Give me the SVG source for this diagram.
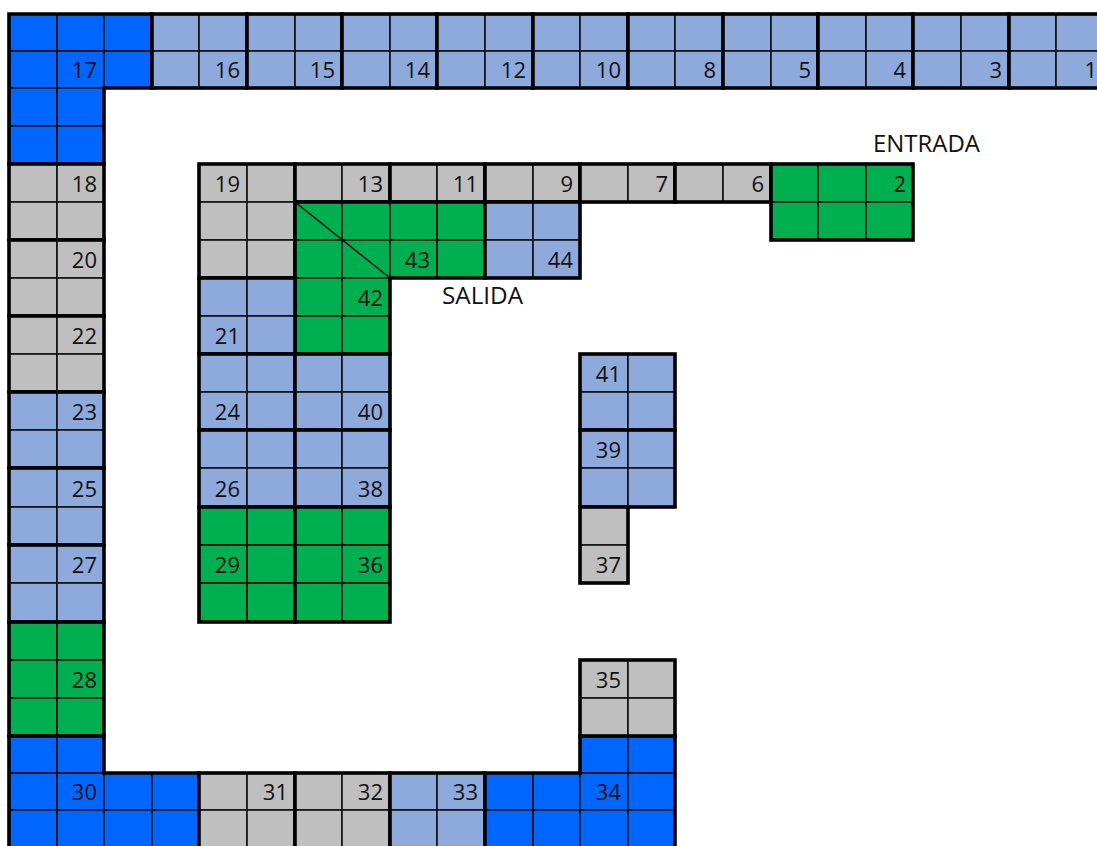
<svg xmlns="http://www.w3.org/2000/svg" width="1097" height="846" viewBox="0 0 1097 846">
<style>
.bb rect{fill:#0066FF}
.lb rect{fill:#8EA9DB}
.gy rect{fill:#BFBFBF}
.gn rect{fill:#00B050}
g rect{stroke:#111;stroke-width:1.6}
g rect.o,.o{fill:none;stroke:#000;stroke-width:3.6;stroke-linejoin:miter}
.n{font-family:"Open Sans","Liberation Sans",sans-serif;font-size:22px;text-anchor:end;fill:#111}
.t{font-family:"Open Sans","Liberation Sans",sans-serif;font-size:24px;fill:#111}
</style>
<rect x="0" y="0" width="1097" height="846" fill="#ffffff"/>

<!-- top band -->
<g id="n17"><g class="bb">
<rect x="9" y="14" width="48" height="37"/><rect x="57" y="14" width="47" height="37"/><rect x="104" y="14" width="48" height="37"/>
<rect x="9" y="51" width="48" height="37"/><rect x="57" y="51" width="47" height="37"/><rect x="104" y="51" width="48" height="37"/>
<rect x="9" y="88" width="48" height="38"/><rect x="57" y="88" width="47" height="38"/>
<rect x="9" y="126" width="48" height="38"/><rect x="57" y="126" width="47" height="38"/>
</g><path class="o" d="M9,14 H152 V88 H104 V164 H9 Z"/><text class="n" x="97" y="78">17</text></g>

<g id="n16"><g class="lb">
<rect x="152" y="14" width="47" height="37"/><rect x="199" y="14" width="48" height="37"/>
<rect x="152" y="51" width="47" height="37"/><rect x="199" y="51" width="48" height="37"/>
</g><rect class="o" x="152" y="14" width="95" height="74"/><text class="n" x="240" y="78">16</text></g>

<g id="n15"><g class="lb">
<rect x="247" y="14" width="48" height="37"/><rect x="295" y="14" width="47" height="37"/>
<rect x="247" y="51" width="48" height="37"/><rect x="295" y="51" width="47" height="37"/>
</g><rect class="o" x="247" y="14" width="95" height="74"/><text class="n" x="335" y="78">15</text></g>

<g id="n14"><g class="lb">
<rect x="342" y="14" width="48" height="37"/><rect x="390" y="14" width="47" height="37"/>
<rect x="342" y="51" width="48" height="37"/><rect x="390" y="51" width="47" height="37"/>
</g><rect class="o" x="342" y="14" width="95" height="74"/><text class="n" x="430" y="78">14</text></g>

<g id="n12"><g class="lb">
<rect x="437" y="14" width="48" height="37"/><rect x="485" y="14" width="48" height="37"/>
<rect x="437" y="51" width="48" height="37"/><rect x="485" y="51" width="48" height="37"/>
</g><rect class="o" x="437" y="14" width="96" height="74"/><text class="n" x="526" y="78">12</text></g>

<g id="n10"><g class="lb">
<rect x="533" y="14" width="47" height="37"/><rect x="580" y="14" width="48" height="37"/>
<rect x="533" y="51" width="47" height="37"/><rect x="580" y="51" width="48" height="37"/>
</g><rect class="o" x="533" y="14" width="95" height="74"/><text class="n" x="621" y="78">10</text></g>

<g id="n8"><g class="lb">
<rect x="628" y="14" width="47" height="37"/><rect x="675" y="14" width="48" height="37"/>
<rect x="628" y="51" width="47" height="37"/><rect x="675" y="51" width="48" height="37"/>
</g><rect class="o" x="628" y="14" width="95" height="74"/><text class="n" x="716" y="78">8</text></g>

<g id="n5"><g class="lb">
<rect x="723" y="14" width="48" height="37"/><rect x="771" y="14" width="47" height="37"/>
<rect x="723" y="51" width="48" height="37"/><rect x="771" y="51" width="47" height="37"/>
</g><rect class="o" x="723" y="14" width="95" height="74"/><text class="n" x="811" y="78">5</text></g>

<g id="n4"><g class="lb">
<rect x="818" y="14" width="48" height="37"/><rect x="866" y="14" width="47" height="37"/>
<rect x="818" y="51" width="48" height="37"/><rect x="866" y="51" width="47" height="37"/>
</g><rect class="o" x="818" y="14" width="95" height="74"/><text class="n" x="906" y="78">4</text></g>

<g id="n3"><g class="lb">
<rect x="913" y="14" width="48" height="37"/><rect x="961" y="14" width="48" height="37"/>
<rect x="913" y="51" width="48" height="37"/><rect x="961" y="51" width="48" height="37"/>
</g><rect class="o" x="913" y="14" width="96" height="74"/><text class="n" x="1002" y="78">3</text></g>

<g id="n1"><g class="lb">
<rect x="1009" y="14" width="47" height="37"/><rect x="1056" y="14" width="48" height="37"/>
<rect x="1009" y="51" width="47" height="37"/><rect x="1056" y="51" width="48" height="37"/>
</g><rect class="o" x="1009" y="14" width="95" height="74"/><text class="n" x="1097" y="78">1</text></g>

<!-- left band -->
<g id="n18"><g class="gy">
<rect x="9" y="164" width="48" height="38"/><rect x="57" y="164" width="47" height="38"/>
<rect x="9" y="202" width="48" height="38"/><rect x="57" y="202" width="47" height="38"/>
</g><rect class="o" x="9" y="164" width="95" height="76"/><text class="n" x="97" y="192">18</text></g>

<g id="n20"><g class="gy">
<rect x="9" y="240" width="48" height="38"/><rect x="57" y="240" width="47" height="38"/>
<rect x="9" y="278" width="48" height="38"/><rect x="57" y="278" width="47" height="38"/>
</g><rect class="o" x="9" y="240" width="95" height="76"/><text class="n" x="97" y="268">20</text></g>

<g id="n22"><g class="gy">
<rect x="9" y="316" width="48" height="38"/><rect x="57" y="316" width="47" height="38"/>
<rect x="9" y="354" width="48" height="38"/><rect x="57" y="354" width="47" height="38"/>
</g><rect class="o" x="9" y="316" width="95" height="76"/><text class="n" x="97" y="344">22</text></g>

<g id="n23"><g class="lb">
<rect x="9" y="392" width="48" height="38"/><rect x="57" y="392" width="47" height="38"/>
<rect x="9" y="430" width="48" height="38"/><rect x="57" y="430" width="47" height="38"/>
</g><rect class="o" x="9" y="392" width="95" height="76"/><text class="n" x="97" y="420">23</text></g>

<g id="n25"><g class="lb">
<rect x="9" y="468" width="48" height="39"/><rect x="57" y="468" width="47" height="39"/>
<rect x="9" y="507" width="48" height="38"/><rect x="57" y="507" width="47" height="38"/>
</g><rect class="o" x="9" y="468" width="95" height="77"/><text class="n" x="97" y="497">25</text></g>

<g id="n27"><g class="lb">
<rect x="9" y="545" width="48" height="38"/><rect x="57" y="545" width="47" height="38"/>
<rect x="9" y="583" width="48" height="39"/><rect x="57" y="583" width="47" height="39"/>
</g><rect class="o" x="9" y="545" width="95" height="77"/><text class="n" x="97" y="573">27</text></g>

<g id="n28"><g class="gn">
<rect x="9" y="622" width="48" height="38"/><rect x="57" y="622" width="47" height="38"/>
<rect x="9" y="660" width="48" height="38"/><rect x="57" y="660" width="47" height="38"/>
<rect x="9" y="698" width="48" height="38"/><rect x="57" y="698" width="47" height="38"/>
</g><rect class="o" x="9" y="622" width="95" height="114"/><text class="n" x="97" y="688">28</text></g>

<g id="n30"><g class="bb">
<rect x="9" y="736" width="48" height="37"/><rect x="57" y="736" width="47" height="37"/>
<rect x="9" y="773" width="48" height="37"/><rect x="57" y="773" width="47" height="37"/><rect x="104" y="773" width="48" height="37"/><rect x="152" y="773" width="47" height="37"/>
<rect x="9" y="810" width="48" height="38"/><rect x="57" y="810" width="47" height="38"/><rect x="104" y="810" width="48" height="38"/><rect x="152" y="810" width="47" height="38"/>
</g><path class="o" d="M9,736 H104 V773 H199 V848 H9 Z"/><text class="n" x="97" y="800">30</text></g>

<!-- bottom band -->
<g id="n31"><g class="gy">
<rect x="199" y="773" width="48" height="37"/><rect x="247" y="773" width="48" height="37"/>
<rect x="199" y="810" width="48" height="38"/><rect x="247" y="810" width="48" height="38"/>
</g><rect class="o" x="199" y="773" width="96" height="75"/><text class="n" x="288" y="800">31</text></g>

<g id="n32"><g class="gy">
<rect x="295" y="773" width="47" height="37"/><rect x="342" y="773" width="48" height="37"/>
<rect x="295" y="810" width="47" height="38"/><rect x="342" y="810" width="48" height="38"/>
</g><rect class="o" x="295" y="773" width="95" height="75"/><text class="n" x="383" y="800">32</text></g>

<g id="n33"><g class="lb">
<rect x="390" y="773" width="47" height="37"/><rect x="437" y="773" width="48" height="37"/>
<rect x="390" y="810" width="47" height="38"/><rect x="437" y="810" width="48" height="38"/>
</g><rect class="o" x="390" y="773" width="95" height="75"/><text class="n" x="478" y="800">33</text></g>

<g id="n34"><g class="bb">
<rect x="580" y="736" width="48" height="37"/><rect x="628" y="736" width="47" height="37"/>
<rect x="485" y="773" width="48" height="37"/><rect x="533" y="773" width="47" height="37"/><rect x="580" y="773" width="48" height="37"/><rect x="628" y="773" width="47" height="37"/>
<rect x="485" y="810" width="48" height="38"/><rect x="533" y="810" width="47" height="38"/><rect x="580" y="810" width="48" height="38"/><rect x="628" y="810" width="47" height="38"/>
</g><path class="o" d="M485,773 H580 V736 H675 V848 H485 Z"/><text class="n" x="621" y="800">34</text></g>

<g id="n35"><g class="gy">
<rect x="580" y="660" width="48" height="38"/><rect x="628" y="660" width="47" height="38"/>
<rect x="580" y="698" width="48" height="38"/><rect x="628" y="698" width="47" height="38"/>
</g><rect class="o" x="580" y="660" width="95" height="76"/><text class="n" x="621" y="688">35</text></g>

<!-- inner row 4 -->
<g id="n19"><g class="gy">
<rect x="199" y="164" width="48" height="38"/><rect x="247" y="164" width="48" height="38"/>
<rect x="199" y="202" width="48" height="38"/><rect x="247" y="202" width="48" height="38"/>
<rect x="199" y="240" width="48" height="38"/><rect x="247" y="240" width="48" height="38"/>
</g><rect class="o" x="199" y="164" width="96" height="114"/><text class="n" x="240" y="192">19</text></g>

<g id="n13"><g class="gy">
<rect x="295" y="164" width="47" height="38"/><rect x="342" y="164" width="48" height="38"/>
</g><rect class="o" x="295" y="164" width="95" height="38"/><text class="n" x="383" y="192">13</text></g>

<g id="n11"><g class="gy">
<rect x="390" y="164" width="47" height="38"/><rect x="437" y="164" width="48" height="38"/>
</g><rect class="o" x="390" y="164" width="95" height="38"/><text class="n" x="478" y="192">11</text></g>

<g id="n9"><g class="gy">
<rect x="485" y="164" width="48" height="38"/><rect x="533" y="164" width="47" height="38"/>
</g><rect class="o" x="485" y="164" width="95" height="38"/><text class="n" x="573" y="192">9</text></g>

<g id="n7"><g class="gy">
<rect x="580" y="164" width="48" height="38"/><rect x="628" y="164" width="47" height="38"/>
</g><rect class="o" x="580" y="164" width="95" height="38"/><text class="n" x="668" y="192">7</text></g>

<g id="n6"><g class="gy">
<rect x="675" y="164" width="48" height="38"/><rect x="723" y="164" width="48" height="38"/>
</g><rect class="o" x="675" y="164" width="96" height="38"/><text class="n" x="764" y="192">6</text></g>

<g id="n2"><g class="gn">
<rect x="771" y="164" width="47" height="38"/><rect x="818" y="164" width="48" height="38"/><rect x="866" y="164" width="47" height="38"/>
<rect x="771" y="202" width="47" height="38"/><rect x="818" y="202" width="48" height="38"/><rect x="866" y="202" width="47" height="38"/>
</g><rect class="o" x="771" y="164" width="142" height="76"/><text class="n" x="906" y="192">2</text></g>

<text id="entrada" class="t" x="873" y="152" textLength="107" lengthAdjust="spacingAndGlyphs">ENTRADA</text>

<g id="n43"><g class="gn">
<rect x="295" y="202" width="47" height="38"/><rect x="342" y="202" width="48" height="38"/><rect x="390" y="202" width="47" height="38"/><rect x="437" y="202" width="48" height="38"/>
<rect x="295" y="240" width="47" height="38"/><rect x="342" y="240" width="48" height="38"/><rect x="390" y="240" width="47" height="38"/><rect x="437" y="240" width="48" height="38"/>
<rect x="295" y="278" width="47" height="38"/><rect x="342" y="278" width="48" height="38"/>
<rect x="295" y="316" width="47" height="38"/><rect x="342" y="316" width="48" height="38"/>
</g><line x1="295" y1="202" x2="390" y2="278" stroke="#111" stroke-width="1.6"/>
<path class="o" d="M295,202 H485 V278 H390 V354 H295 Z"/>
<text class="n" x="430" y="268">43</text><text class="n" x="383" y="306">42</text></g>

<g id="n44"><g class="lb">
<rect x="485" y="202" width="48" height="38"/><rect x="533" y="202" width="47" height="38"/>
<rect x="485" y="240" width="48" height="38"/><rect x="533" y="240" width="47" height="38"/>
</g><rect class="o" x="485" y="202" width="95" height="76"/><text class="n" x="573" y="268">44</text></g>

<text id="salida" class="t" x="442" y="304" textLength="81" lengthAdjust="spacingAndGlyphs">SALIDA</text>

<!-- inner columns -->
<g id="n21"><g class="lb">
<rect x="199" y="278" width="48" height="38"/><rect x="247" y="278" width="48" height="38"/>
<rect x="199" y="316" width="48" height="38"/><rect x="247" y="316" width="48" height="38"/>
</g><rect class="o" x="199" y="278" width="96" height="76"/><text class="n" x="240" y="344">21</text></g>

<g id="n24"><g class="lb">
<rect x="199" y="354" width="48" height="38"/><rect x="247" y="354" width="48" height="38"/>
<rect x="199" y="392" width="48" height="38"/><rect x="247" y="392" width="48" height="38"/>
</g><rect class="o" x="199" y="354" width="96" height="76"/><text class="n" x="240" y="420">24</text></g>

<g id="n40"><g class="lb">
<rect x="295" y="354" width="47" height="38"/><rect x="342" y="354" width="48" height="38"/>
<rect x="295" y="392" width="47" height="38"/><rect x="342" y="392" width="48" height="38"/>
</g><rect class="o" x="295" y="354" width="95" height="76"/><text class="n" x="383" y="420">40</text></g>

<g id="n26"><g class="lb">
<rect x="199" y="430" width="48" height="38"/><rect x="247" y="430" width="48" height="38"/>
<rect x="199" y="468" width="48" height="39"/><rect x="247" y="468" width="48" height="39"/>
</g><rect class="o" x="199" y="430" width="96" height="77"/><text class="n" x="240" y="497">26</text></g>

<g id="n38"><g class="lb">
<rect x="295" y="430" width="47" height="38"/><rect x="342" y="430" width="48" height="38"/>
<rect x="295" y="468" width="47" height="39"/><rect x="342" y="468" width="48" height="39"/>
</g><rect class="o" x="295" y="430" width="95" height="77"/><text class="n" x="383" y="497">38</text></g>

<g id="n29"><g class="gn">
<rect x="199" y="507" width="48" height="38"/><rect x="247" y="507" width="48" height="38"/>
<rect x="199" y="545" width="48" height="38"/><rect x="247" y="545" width="48" height="38"/>
<rect x="199" y="583" width="48" height="39"/><rect x="247" y="583" width="48" height="39"/>
</g><rect class="o" x="199" y="507" width="96" height="115"/><text class="n" x="240" y="573">29</text></g>

<g id="n36"><g class="gn">
<rect x="295" y="507" width="47" height="38"/><rect x="342" y="507" width="48" height="38"/>
<rect x="295" y="545" width="47" height="38"/><rect x="342" y="545" width="48" height="38"/>
<rect x="295" y="583" width="47" height="39"/><rect x="342" y="583" width="48" height="39"/>
</g><rect class="o" x="295" y="507" width="95" height="115"/><text class="n" x="383" y="573">36</text></g>

<g id="n41"><g class="lb">
<rect x="580" y="354" width="48" height="38"/><rect x="628" y="354" width="47" height="38"/>
<rect x="580" y="392" width="48" height="38"/><rect x="628" y="392" width="47" height="38"/>
</g><rect class="o" x="580" y="354" width="95" height="76"/><text class="n" x="621" y="382">41</text></g>

<g id="n39"><g class="lb">
<rect x="580" y="430" width="48" height="38"/><rect x="628" y="430" width="47" height="38"/>
<rect x="580" y="468" width="48" height="39"/><rect x="628" y="468" width="47" height="39"/>
</g><rect class="o" x="580" y="430" width="95" height="77"/><text class="n" x="621" y="458">39</text></g>

<g id="n37"><g class="gy">
<rect x="580" y="507" width="48" height="38"/>
<rect x="580" y="545" width="48" height="38"/>
</g><rect class="o" x="580" y="507" width="48" height="76"/><text class="n" x="621" y="573">37</text></g>

<g id="connectors"></g>
</svg>
